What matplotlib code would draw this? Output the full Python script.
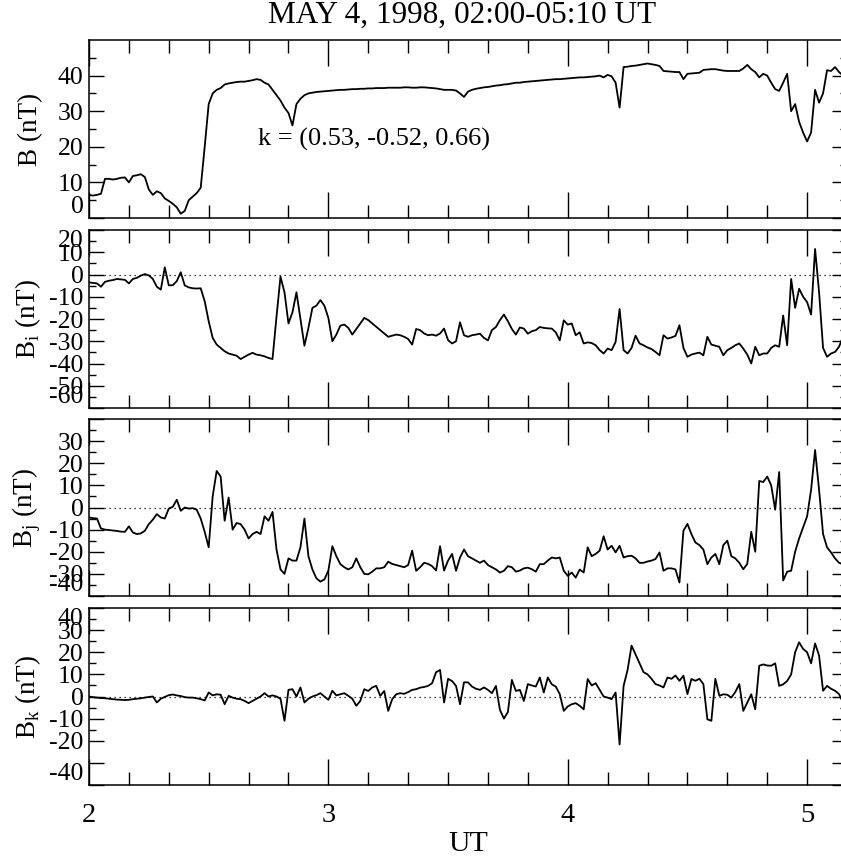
import numpy as np
import matplotlib
matplotlib.use("Agg")
import matplotlib.pyplot as plt
from matplotlib.ticker import FixedLocator, MultipleLocator

plt.rcParams['font.family'] = ['Liberation Serif', 'DejaVu Serif']
plt.rcParams['axes.unicode_minus'] = False

# sample times: minutes after 02:00 UT
minutes = np.arange(0, 191)

B = [6.5, 6.3, 6.5, 6.8, 11, 11, 10.8, 11, 11.3, 11.4,
     10, 11.8, 12, 12.3, 11.5, 8, 6.5, 7.5, 7, 5.5,
     4.8, 4, 3, 1.2, 2, 5, 6, 7, 8.5, 20,
     32, 35, 36, 36.5, 37.5, 37.8, 38, 38.2, 38.3, 38.3,
     38.5, 38.7, 39, 38.8, 38, 37.5, 36, 34.5, 33, 31,
     29.5, 26, 32, 33.5, 34.5, 35, 35.2, 35.4, 35.5, 35.6,
     35.7, 35.8, 35.9, 36, 36, 36.1, 36.2, 36.2, 36.3, 36.3,
     36.4, 36.4, 36.5, 36.5, 36.5, 36.6, 36.6, 36.6, 36.6, 36.7,
     36.7, 36.6, 36.6, 36.7, 36.7, 36.6, 36.5, 36.4, 36.2, 36,
     36, 36, 35.8, 35, 34, 35.5, 36, 36.3, 36.5, 36.7,
     36.8, 37, 37.2, 37.3, 37.5, 37.6, 37.8, 38, 38, 38.2,
     38.3, 38.4, 38.5, 38.6, 38.7, 38.8, 38.9, 39, 39, 39.1,
     39.2, 39.3, 39.4, 39.5, 39.5, 39.6, 39.7, 39.8, 40, 39.5,
     40.2, 39.8, 38, 31, 42.4, 42.5, 42.7, 42.8, 43, 43.2,
     43.4, 43.2, 43, 42.7, 41.3, 41.2, 41.1, 41, 41, 39,
     40.5, 40.6, 40.7, 40.8, 41.6, 41.7, 41.8, 41.8, 41.6, 41.4,
     41.3, 41.3, 41.3, 41.3, 42, 43, 41.8, 41, 39.5, 40.5,
     40, 38, 36.2, 35.7, 38, 40.5, 30, 32, 27, 24,
     21.5, 24, 36, 32.4, 35, 41.5, 41.3, 42.4, 41, 40, 41]

Bi = [-3.5, -3.8, -4, -5.5, -3.3, -2.8, -2.5, -2, -2.2, -2.4,
      -4, -2, -1.5, -0.5, 0.2, -0.4, -2, -5.5, -6.8, 3.2,
      -4.9, -4.8, -3, 1, -4.9, -5.8, -6.2, -6.3, -6.2, -12,
      -21, -28.5, -31.5, -33, -34.5, -35.5, -36, -36.5, -38, -37,
      -36, -35.2, -36, -36.3, -36.8, -37.5, -38, -19, -1, -8,
      -22, -17, -8, -20, -32, -24, -15, -14, -11.5, -14,
      -19.5, -30, -27, -23, -22.5, -24, -27, -24.5, -22, -19.5,
      -20.5, -22, -23.5, -25, -26.5, -28, -27.5, -27, -27.3, -28,
      -29, -31.5, -24.5, -25, -26.5, -27.3, -27, -27.5, -26.5, -24.3,
      -29.5, -31, -30, -21.5, -27.3, -28, -27.3, -27, -26.6, -28.5,
      -29.6, -25, -23.6, -20.5, -18, -21, -24.5, -27, -23.8, -24.3,
      -26.6, -25.5, -25, -23.6, -24, -24.2, -24.3, -26, -29.6, -20.6,
      -22.5, -22, -27.3, -26, -31, -30.5, -30.8, -31.8, -34, -35.5,
      -33.3, -34, -30.3, -15.5, -34, -35.5, -33, -27.5, -31, -31.8,
      -32.8, -33.5, -34.8, -36.3, -27.3, -28.8, -28.3, -27.6, -22.8, -33,
      -37, -36, -35.5, -35.1, -36.3, -28, -31.5, -32, -32.5, -36.3,
      -34, -33, -31.8, -31, -33.3, -36, -40, -32.5, -36.3, -35.5,
      -35.5, -33, -31.8, -32.5, -18.4, -31.8, -2, -15, -6.4, -10,
      -12.4, -18, 11.5, -8, -33, -37, -35.5, -34.8, -32.5, -28, -27]

Bj = [-4.5, -4.8, -5, -9.5, -10, -10.2, -10.4, -10.6, -10.9, -11,
      -8.5, -11.3, -12, -11.7, -10.5, -7.5, -5.5, -3, -4.5, -5,
      -0.5, 0.3, 3.5, -1.5, 0, -0.5, -0.3, -1, -5, -11,
      -18, 5, 16.5, 14, -6, 4.5, -10, -7, -7.5, -10,
      -14, -12, -11, -12, -4, -6, -2, -19, -28, -30,
      -23, -24, -24, -18, -5, -22, -28, -32, -33.5, -32.5,
      -28.5, -17.5, -22, -25.6, -27, -28, -27, -23, -27, -30,
      -30.2, -29, -27.5, -27.5, -27, -24.5, -25.5, -26, -26.5, -27,
      -26, -19.5, -28.6, -27, -25, -25.5, -26.5, -28.5, -17.5, -28.5,
      -24, -21, -28.6, -22.6, -19, -22, -23, -24, -25, -24,
      -26, -27, -28, -29.4, -28.6, -26.5, -27, -29, -28.5, -27.5,
      -27.2, -27.9, -29, -25.6, -25.6, -24, -22.6, -23, -22.6, -28.6,
      -30.9, -29.4, -31.7, -28, -29.4, -18, -22, -21, -19.5, -13,
      -19, -17.3, -20.3, -17.3, -22.6, -22, -21.8, -23, -25, -25,
      -24.4, -24, -23.3, -20.3, -28.6, -27.5, -27.5, -28, -33.9, -10.5,
      -7.4, -12, -15.8, -17, -19, -25.6, -22.6, -21, -25.6, -17,
      -15, -22, -23, -25, -27.9, -25.5, -11, -20, 12, 11.5,
      14, 10, -1, 16, -33, -29, -28.6, -20, -14, -9,
      -4, 8, 26, 8, -12, -18, -20.3, -23, -25, -25.6, -26]

Bk = [0, -0.3, -0.5, -0.7, -0.8, -1, -1.2, -1.4, -1.5, -1.6,
      -1.5, -1.2, -1, -0.8, -0.5, -0.2, 0, -2.7, -1, -0.2,
      0.6, 0.9, 0.5, 0.2, -0.3, -0.5, -0.5, -0.8, -1.2, -1.8,
      1.8, 0.5, 1, 0.8, -3.5, 0.3, -0.5, -1, -1.2, -2,
      -3, -2, -1, 0, 1.5, 0, 0.5, 0, -1, -11,
      3, 3.3, 0, 4.1, -2.7, -1, 0, 0.6, 1.5, 0,
      -1.5, 2.6, 0.5, 1, 1.5, 0.3, -1, -4.2, -2, 3.3,
      2.5, 4.1, 4.8, 0.3, 2.5, -6.5, -1.2, 1, 1.5, 1.2,
      2, 3, 3.3, 4, 4.3, 4.8, 6, 11, 12, -2.7,
      8, 7, 4.8, -3.5, 6.4, 6.4, 4.5, 3.5, 3, 4.1,
      3, 1.5, 4.8, -6, -10, -7, 7.5, 2.5, 3, -2,
      5.6, 5, 4.5, 8.6, 1.8, 8.6, 5.5, 4.5, 1.1, -6.5,
      -4.5, -3.5, -3, -4.2, -5.8, 7.9, 5, 6, 3, 0,
      -0.5, -1.2, 1.8, -21.7, 4.8, 12, 23, 19, 15, 11,
      10, 8, 5.6, 5, 4.1, 8.6, 8, 9.5, 7.1, 9.4,
      1.1, 7.9, 7.1, 8, 5.6, -10.3, -11, 8, 0.3, 1,
      0.8, -0.5, 2, 5.6, -6.5, -2.7, 1, -5.8, 13.9, 14.5,
      14, 13.9, 15, 4.8, 5.5, 7, 10, 20, 24.5, 21.5,
      20, 15, 24, 18.5, 2.6, 4.8, 3.5, 2.6, 1.1, -2.7, -1]

title = "MAY 4, 1998, 02:00-05:10 UT"
ylabels = ["B (nT)", r"B$_\mathregular{i}$ (nT)", r"B$_\mathregular{j}$ (nT)", r"B$_\mathregular{k}$ (nT)"]
ylims = [(0, 50), (-60, 20), (-40, 40), (-40, 40)]
yticks = [[0, 10, 20, 30, 40],
          [-60, -50, -40, -30, -20, -10, 0, 10, 20],
          [-40, -30, -20, -10, 0, 10, 20, 30, 40],
          [-40, -30, -20, -10, 0, 10, 20, 30, 40]]
yticklabels = [["0", "10", "20", "30", "40"],
               ["-60", "-50", "-40", "-30", "-20", "-10", "0", "10", "20"],
               ["-40", "-30", "-20", "-10", "0", "10", "20", "30", ""],
               ["-40", "", "-20", "-10", "0", "10", "20", "30", "40"]]
yminor = [[5, 15, 25, 35, 45],
          [-55, -45, -35, -25, -15, -5, 5, 15],
          [-35, -25, -15, -5, 5, 15, 25, 35],
          [-15, -5, 5, 15, 25, 35]]
xticks = [2, 3, 4, 5]
annotation = "k = (0.53, -0.52, 0.66)"

series = [B, Bi, Bj, Bk]
t = 2 + minutes / 60.0

W, H = 841, 858
fig = plt.figure(figsize=(W / 100, H / 100), dpi=100)
left_px, right_px = 89, 847
panels_px = [(40, 218), (230, 408), (419, 596), (608, 785)]

YT_FS = 18.5
YL_FS = 19.5
XT_FS = 20.5
axes = []
for i, (top, bot) in enumerate(panels_px):
    ax = fig.add_axes([left_px / W, (H - bot) / H, (right_px - left_px) / W, (bot - top) / H])
    axes.append(ax)
    ax.plot(t, series[i], color='black', lw=1.3)
    if i > 0:
        ax.axhline(0, color='black', lw=0.9, ls=(0, (1, 3)))
    ax.set_xlim(2, 5 + 10 / 60)
    ax.set_ylim(*ylims[i])
    ax.set_yticks(yticks[i], labels=yticklabels[i])
    ax.yaxis.set_minor_locator(FixedLocator(yminor[i]))
    ax.set_xticks(xticks)
    ax.xaxis.set_minor_locator(MultipleLocator(1 / 6))
    ax.tick_params(axis='both', which='both', direction='in', top=True, right=True,
                   width=1.0)
    ax.tick_params(axis='y', which='major', length=11, pad=4, labelsize=YT_FS)
    ax.tick_params(axis='y', which='minor', length=5)
    ax.tick_params(axis='x', which='major', length=19, pad=13, labelsize=XT_FS)
    ax.tick_params(axis='x', which='minor', length=9.5)
    for s in ax.spines.values():
        s.set_linewidth(1.1)
    if i < 3:
        ax.tick_params(axis='x', labelbottom=False)
    ax.set_ylabel(ylabels[i], fontsize=YL_FS)
    ax.yaxis.set_label_coords(-0.061, 0.5)
    lo, hi = ylims[i]
    for tk, val in zip(ax.yaxis.get_major_ticks(), yticks[i]):
        if val == lo:
            tk.label1.set_verticalalignment('bottom')
        elif val == hi:
            tk.label1.set_verticalalignment('top')

axes[0].text(2.705, 22, annotation, fontsize=19, va='center', ha='left')
axes[3].set_xlabel("UT", fontsize=21.5, labelpad=2)
fig.text(0.549, 0.999, title, ha='center', va='top', fontsize=22.5)

fig.savefig("out.png", dpi=100)
